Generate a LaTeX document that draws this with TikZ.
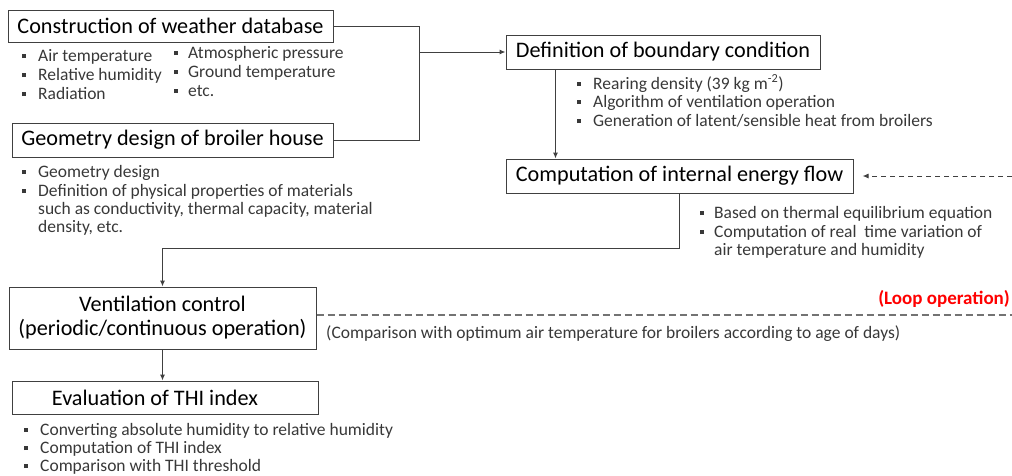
\documentclass[tikz,border=0pt]{standalone}
\usepackage{fontspec}
\setmainfont{Carlito}
\usetikzlibrary{arrows.meta,calc}
\newcommand\bsq{\makebox[16pt][l]{\rule[3pt]{4pt}{4pt}}}
\newcommand\bsqn{\makebox[14pt][l]{\rule[3pt]{4pt}{4pt}}}
\newcommand\titlefont{\fontsize{22.2}{24}\selectfont}
\newcommand\btfont{\fontsize{17.5}{19}\selectfont}
\begin{document}
\begin{tikzpicture}[x=1pt,y=-1pt,
  box/.style={draw=black!75, line width=1pt, inner sep=0pt, align=center, font=\titlefont, text=black},
  btxt/.style={anchor=base west, inner sep=0pt, font=\btfont, text=black!78},
  conn/.style={draw=black!75, line width=1pt},
  arr/.style={conn, -{Latex[length=6pt,width=5pt]}}]
\useasboundingbox (0,0) rectangle (1012,475);
% boxes
\node[box, minimum width=325pt, minimum height=32pt] (A) at (170.5,26) {Construction of weather database};
\node[box, minimum width=321pt, minimum height=34pt] (B) at (172.5,140) {Geometry design of broiler house};
\node[box, minimum width=314pt, minimum height=34pt] (C) at (663,52) {Definition of boundary condition};
\node[box, minimum width=347pt, minimum height=34pt] (D) at (679.5,176) {Computation of internal energy flow};
\node[box, minimum width=307pt, minimum height=62pt] (E) at (162.5,318) {Ventilation control\\(periodic/continuous operation)};
\node[box, minimum width=306pt, minimum height=33pt] (F) at (165,397.5) {Evaluation of THI index\hspace*{20pt}};
% bullet lists
\node[btxt] (a1) at (22,61) {\bsq Air temperature};
\node[btxt] (a2) at (22,80) {\bsq Relative humidity};
\node[btxt] (a3) at (22,99) {\bsq Radiation};
\node[btxt] (a4) at (174,58) {\bsqn Atmospheric pressure};
\node[btxt] (a5) at (174,77) {\bsqn Ground temperature};
\node[btxt] (a6) at (174,96) {\bsqn etc.};
\node[btxt] (b1) at (22,177) {\bsq Geometry design};
\node[btxt] (b2) at (22,196) {\bsq Definition of physical properties of materials};
\node[btxt] (b3) at (22,214) {\hspace*{16pt}such as conductivity, thermal capacity, material};
\node[btxt] (b4) at (22,232) {\hspace*{16pt}density, etc.};
\node[btxt] (c1) at (577,89) {\bsq Rearing density (39 kg m\textsuperscript{-2})};
\node[btxt] (c2) at (577,107) {\bsq Algorithm of ventilation operation};
\node[btxt] (c3) at (577,126) {\bsq Generation of latent/sensible heat from broilers};
\node[btxt] (d1) at (700,218) {\bsqn Based on thermal equilibrium equation};
\node[btxt] (d2) at (700,237) {\bsqn Computation of real\ \ time variation of};
\node[btxt] (d3) at (700,255) {\hspace*{14pt}air temperature and humidity};
\node[btxt] (f1) at (24,435) {\bsq Converting absolute humidity to relative humidity};
\node[btxt] (f2) at (24,453) {\bsq Computation of THI index};
\node[btxt] (f3) at (24,471) {\bsq Comparison with THI threshold};
\node[btxt] (cmp) at (326,338) {(Comparison with optimum air temperature for broilers according to age of days)};
\node[anchor=base east, inner sep=0pt, font=\fontsize{19}{20}\selectfont\bfseries, text=red] (loop) at (1010,304) {(Loop operation)};
% connectors
\coordinate (j1) at (419,52);
\draw[conn] (A.east) -| (j1);
\draw[conn] (B.east) -| (j1);
\draw[arr] (j1) -- (C.west);
\draw[arr] ([xshift=50pt]C.south west) -- ([xshift=50pt]C.south west |- D.north);
\draw[arr] (D.south) -- ++(0,55) -| (E.north);
\draw[arr] (E.south) -- (E.south |- F.north);
\coordinate (r1) at (1012,176);
\draw[arr, dash pattern=on 5pt off 4pt] (r1) -- ([xshift=9pt]D.east);
\coordinate (r2) at (1012,315);
\draw[draw=black!55, line width=1.4pt, dash pattern=on 7pt off 4pt] (E.east |- r2) -- (r2);
\end{tikzpicture}
\end{document}
